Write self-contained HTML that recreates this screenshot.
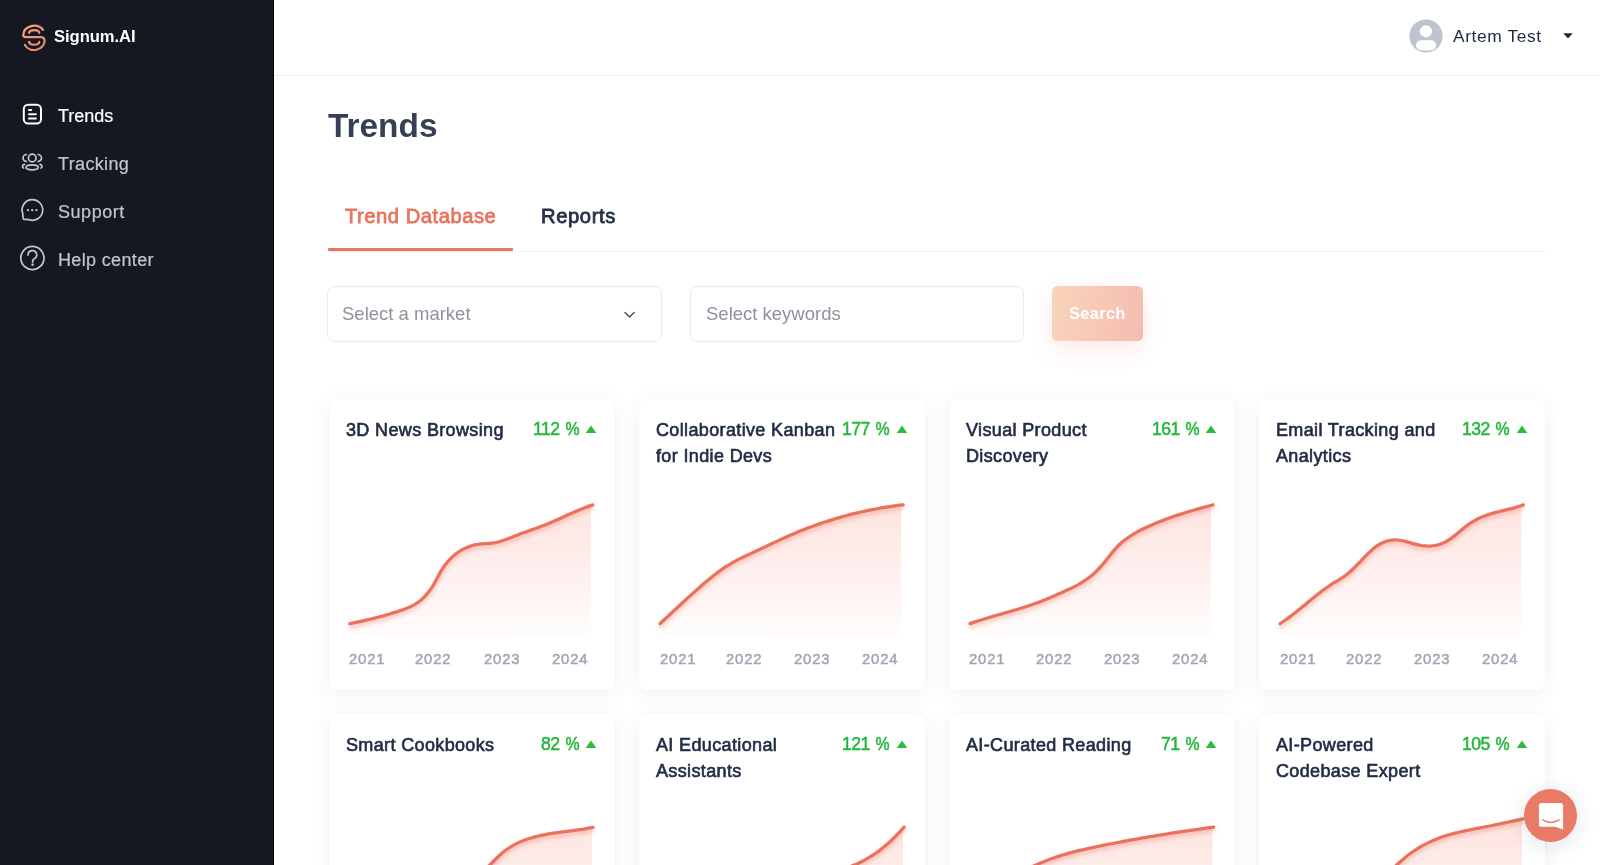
<!DOCTYPE html><html><head><meta charset="utf-8"><title>Signum.AI - Trends</title><style>
*{box-sizing:border-box;margin:0;padding:0}
html,body{width:1600px;height:865px;overflow:hidden;background:#fff;font-family:"Liberation Sans", Arial, sans-serif}
.t{position:absolute;white-space:nowrap;line-height:1;will-change:transform}
.abs{position:absolute}
#side{position:absolute;left:0;top:0;width:274px;height:865px;background:#151722;border-right:1px solid #000}
#hdr{position:absolute;left:274px;top:75px;width:1326px;height:1px;background:#eceef2}
.card{position:absolute;width:286px;height:291px;background:#fff;border-radius:8px;
  box-shadow:0 4px 20px rgba(40,55,100,0.075), 0 0 2px rgba(40,55,100,0.03)}
.inp{position:absolute;top:286px;height:55.6px;border:1.5px solid #e9eaf0;border-radius:7px;background:#fff}
</style></head><body>
<div id="side"></div>
<svg class="abs" style="left:20px;top:22px" width="28" height="32" viewBox="20 22 28 32">
<defs><linearGradient id="lg" x1="0" y1="0" x2="1" y2="1"><stop offset="0" stop-color="#f4a47a"/><stop offset="1" stop-color="#ec846c"/></linearGradient></defs>
<g fill="none" stroke="url(#lg)" stroke-width="2.2" stroke-linecap="round">
<path d="M43,29.8 A11,10 0 0 0 23.2,35 Q23.2,37.1 26,37.1 L40.6,37.1 Q44.6,37.1 44.6,41 A10.4,9 0 0 1 24.9,45"/>
<path d="M29.1,33 C29.6,29.3 38.8,29.3 39.3,33"/>
<path d="M29.1,41.9 C29.6,45.7 38.8,45.7 39.3,41.9"/>
</g></svg>
<div class="t" style="left:54.00px;top:29.25px;font-size:16.6px;color:#ffffff;font-weight:700;letter-spacing:-0.05px;">Signum.AI</div>
<svg class="abs" style="left:20px;top:101px" width="26" height="26" viewBox="20 101 26 26">
<g fill="none" stroke="#ffffff" stroke-width="2" stroke-linecap="round">
<rect x="23.8" y="104.8" width="17.2" height="18.7" rx="4.3"/>
<path d="M29,110 L31.2,110 M29,114.2 L35.9,114.2 M29,118.6 L35.9,118.6"/>
</g></svg>
<div class="t" style="left:58.00px;top:106.86px;font-size:18px;color:#ffffff;font-weight:400;letter-spacing:0px;-webkit-text-stroke:0.2px #fff;">Trends</div>
<svg class="abs" style="left:19px;top:150px" width="28" height="24" viewBox="19 150 28 24">
<g fill="none" stroke="#c4c6cf" stroke-width="1.7" stroke-linecap="round">
<circle cx="32.25" cy="158.05" r="3.85"/>
<ellipse cx="32.15" cy="167.35" rx="6.1" ry="2.5"/>
<path d="M26.5,154.5 A3.5,3.5 0 0 0 26.5,161.5"/>
<path d="M38,154.5 A3.5,3.5 0 0 1 38,161.5"/>
<path d="M24.5,164.3 C22.3,164.8 21.6,166.8 23.6,168.1"/>
<path d="M40,164.3 C42.2,164.8 42.9,166.8 40.9,168.1"/>
</g></svg>
<div class="t" style="left:58.00px;top:154.56px;font-size:18px;color:#c4c6cf;font-weight:400;letter-spacing:0.35px;-webkit-text-stroke:0.2px #c4c6cf;">Tracking</div>
<svg class="abs" style="left:19px;top:196px" width="28" height="28" viewBox="19 196 28 28">
<g fill="none" stroke="#c4c6cf" stroke-width="1.7" stroke-linecap="round" stroke-linejoin="round">
<path d="M22.7,213.4 L23.1,218.1 Q23.2,219.4 24.6,219.3 L28.8,219.6 A10.3,10.3 0 1 0 22.7,213.4 Z"/>
</g>
<g fill="#c4c6cf"><circle cx="28" cy="210.2" r="1.15"/><circle cx="32.2" cy="210.2" r="1.15"/><circle cx="36.4" cy="210.2" r="1.15"/></g>
</svg>
<div class="t" style="left:58.00px;top:202.66px;font-size:18px;color:#c4c6cf;font-weight:400;letter-spacing:0.55px;-webkit-text-stroke:0.2px #c4c6cf;">Support</div>
<svg class="abs" style="left:18px;top:244px" width="30" height="30" viewBox="18 244 30 30">
<g fill="none" stroke="#c4c6cf" stroke-width="1.75" stroke-linecap="round">
<circle cx="32.4" cy="258" r="11.6"/>
<path d="M28.1,255 A4.3,4.3 0 1 1 34.3,258.7 Q32.6,259.7 32.6,261.5 L32.6,262"/>
</g><rect x="31.4" y="263.6" width="2.4" height="2.2" rx="0.5" fill="#c4c6cf"/></svg>
<div class="t" style="left:58.00px;top:250.56px;font-size:18px;color:#c4c6cf;font-weight:400;letter-spacing:0.35px;-webkit-text-stroke:0.2px #c4c6cf;">Help center</div>
<div id="hdr"></div>
<svg class="abs" style="left:1409px;top:19px" width="34" height="34" viewBox="1409 19 34 34">
<defs><clipPath id="av"><circle cx="1426" cy="36" r="16.6"/></clipPath></defs>
<circle cx="1426" cy="36" r="16.6" fill="#bdc4d0"/>
<g clip-path="url(#av)" fill="#fff">
<circle cx="1425.9" cy="31.3" r="6.1"/>
<path d="M1416,46 Q1416,40.3 1421.5,40.3 L1430.5,40.3 Q1436.2,40.3 1436.2,46 Q1436.2,50.6 1426,50.6 Q1416,50.6 1416,46 Z"/>
</g></svg>
<div class="t" style="left:1452.50px;top:28.07px;font-size:17.4px;color:#1e2843;font-weight:400;letter-spacing:0.6px;">Artem Test</div>
<svg class="abs" style="left:1562px;top:32px" width="12" height="8" viewBox="1562 32 12 8"><path d="M1563.2,33.2 L1572.8,33.2 L1568,38.6 Z" fill="#1e2843"/></svg>
<div class="t" style="left:328.30px;top:109.03px;font-size:33.4px;color:#353f55;font-weight:700;letter-spacing:0px;">Trends</div>
<div class="t" style="left:344.60px;top:206.10px;font-size:20.2px;color:#e8755e;font-weight:400;letter-spacing:0.52px;-webkit-text-stroke:0.8px #e8755e;">Trend Database</div>
<div class="t" style="left:540.60px;top:206.10px;font-size:20.2px;color:#263149;font-weight:400;letter-spacing:0.6px;-webkit-text-stroke:0.8px #263149;">Reports</div>
<div class="abs" style="left:328px;top:251px;width:1218px;height:1px;background:#eceef2"></div>
<div class="abs" style="left:328px;top:248px;width:184.5px;height:3px;background:#e8775f;border-radius:1px"></div>
<div class="inp" style="left:327.3px;width:334.6px"></div>
<div class="t" style="left:342.00px;top:304.94px;font-size:18.5px;color:#8f929d;font-weight:400;letter-spacing:0px;">Select a market</div>
<svg class="abs" style="left:622px;top:309px" width="15" height="11" viewBox="622 309 15 11"><path d="M624.6,312.1 L629.6,316.9 L634.6,312.1" fill="none" stroke="#1e2843" stroke-width="1.15"/></svg>
<div class="inp" style="left:689.6px;width:334.4px"></div>
<div class="t" style="left:706.40px;top:304.94px;font-size:18.5px;color:#8f929d;font-weight:400;letter-spacing:0px;">Select keywords</div>
<div class="abs" style="left:1052px;top:286px;width:91px;height:55px;border-radius:5.5px;
background:linear-gradient(100deg,#f8d5b9 0%,#f7c8b6 50%,#f4bcb0 100%);
box-shadow:0 8px 22px rgba(240,120,100,0.16)"></div>
<div class="t" style="left:1069.30px;top:305.20px;font-size:16.3px;color:#ffffff;font-weight:700;letter-spacing:0.4px;">Search</div>
<div class="card" style="left:328.5px;top:398.5px"></div>
<div class="card" style="left:639.0px;top:398.5px"></div>
<div class="card" style="left:948.8px;top:398.5px"></div>
<div class="card" style="left:1259.0px;top:398.5px"></div>
<div class="card" style="left:328.5px;top:713.5px"></div>
<div class="card" style="left:639.0px;top:713.5px"></div>
<div class="card" style="left:948.8px;top:713.5px"></div>
<div class="card" style="left:1259.0px;top:713.5px"></div>
<div class="t" style="left:345.50px;top:417.06px;font-size:18.0px;line-height:26.2px;color:#222c46;letter-spacing:0.36px;-webkit-text-stroke:0.62px #222c46">3D News Browsing</div>
<div class="t" style="right:1020.30px;top:421.10px;font-size:17.6px;color:#22b83b;-webkit-text-stroke:0.5px #22b83b"><span style="letter-spacing:-0.5px">112</span><span style="display:inline-block;margin-left:4.4px;transform:scaleX(0.9);transform-origin:100% 50%">%</span></div>
<svg class="abs" style="left:585.1px;top:425.0px" width="12" height="9" viewBox="0 0 12 9"><path d="M0.7,8.1 L11.3,8.1 L6,0.5 Z" fill="#2bbb3f"/></svg>
<div class="t" style="left:349.10px;top:652.47px;font-size:14.8px;color:#a0a6b4;font-weight:400;letter-spacing:0.85px;-webkit-text-stroke:0.5px #a0a6b4;">2021</div>
<div class="t" style="left:415.40px;top:652.47px;font-size:14.8px;color:#a0a6b4;font-weight:400;letter-spacing:0.85px;-webkit-text-stroke:0.5px #a0a6b4;">2022</div>
<div class="t" style="left:483.60px;top:652.47px;font-size:14.8px;color:#a0a6b4;font-weight:400;letter-spacing:0.85px;-webkit-text-stroke:0.5px #a0a6b4;">2023</div>
<div class="t" style="left:551.80px;top:652.47px;font-size:14.8px;color:#a0a6b4;font-weight:400;letter-spacing:0.85px;-webkit-text-stroke:0.5px #a0a6b4;">2024</div>
<div class="t" style="left:656.00px;top:417.06px;font-size:18.0px;line-height:26.2px;color:#222c46;letter-spacing:0.36px;-webkit-text-stroke:0.62px #222c46">Collaborative Kanban<br>for Indie Devs</div>
<div class="t" style="right:709.80px;top:421.10px;font-size:17.6px;color:#22b83b;-webkit-text-stroke:0.5px #22b83b"><span style="letter-spacing:-0.5px">177</span><span style="display:inline-block;margin-left:4.4px;transform:scaleX(0.9);transform-origin:100% 50%">%</span></div>
<svg class="abs" style="left:895.6px;top:425.0px" width="12" height="9" viewBox="0 0 12 9"><path d="M0.7,8.1 L11.3,8.1 L6,0.5 Z" fill="#2bbb3f"/></svg>
<div class="t" style="left:659.60px;top:652.47px;font-size:14.8px;color:#a0a6b4;font-weight:400;letter-spacing:0.85px;-webkit-text-stroke:0.5px #a0a6b4;">2021</div>
<div class="t" style="left:725.90px;top:652.47px;font-size:14.8px;color:#a0a6b4;font-weight:400;letter-spacing:0.85px;-webkit-text-stroke:0.5px #a0a6b4;">2022</div>
<div class="t" style="left:794.10px;top:652.47px;font-size:14.8px;color:#a0a6b4;font-weight:400;letter-spacing:0.85px;-webkit-text-stroke:0.5px #a0a6b4;">2023</div>
<div class="t" style="left:862.30px;top:652.47px;font-size:14.8px;color:#a0a6b4;font-weight:400;letter-spacing:0.85px;-webkit-text-stroke:0.5px #a0a6b4;">2024</div>
<div class="t" style="left:965.80px;top:417.06px;font-size:18.0px;line-height:26.2px;color:#222c46;letter-spacing:0.36px;-webkit-text-stroke:0.62px #222c46">Visual Product<br>Discovery</div>
<div class="t" style="right:400.00px;top:421.10px;font-size:17.6px;color:#22b83b;-webkit-text-stroke:0.5px #22b83b"><span style="letter-spacing:-0.5px">161</span><span style="display:inline-block;margin-left:4.4px;transform:scaleX(0.9);transform-origin:100% 50%">%</span></div>
<svg class="abs" style="left:1205.4px;top:425.0px" width="12" height="9" viewBox="0 0 12 9"><path d="M0.7,8.1 L11.3,8.1 L6,0.5 Z" fill="#2bbb3f"/></svg>
<div class="t" style="left:969.40px;top:652.47px;font-size:14.8px;color:#a0a6b4;font-weight:400;letter-spacing:0.85px;-webkit-text-stroke:0.5px #a0a6b4;">2021</div>
<div class="t" style="left:1035.70px;top:652.47px;font-size:14.8px;color:#a0a6b4;font-weight:400;letter-spacing:0.85px;-webkit-text-stroke:0.5px #a0a6b4;">2022</div>
<div class="t" style="left:1103.90px;top:652.47px;font-size:14.8px;color:#a0a6b4;font-weight:400;letter-spacing:0.85px;-webkit-text-stroke:0.5px #a0a6b4;">2023</div>
<div class="t" style="left:1172.10px;top:652.47px;font-size:14.8px;color:#a0a6b4;font-weight:400;letter-spacing:0.85px;-webkit-text-stroke:0.5px #a0a6b4;">2024</div>
<div class="t" style="left:1276.00px;top:417.06px;font-size:18.0px;line-height:26.2px;color:#222c46;letter-spacing:0.36px;-webkit-text-stroke:0.62px #222c46">Email Tracking and<br>Analytics</div>
<div class="t" style="right:89.80px;top:421.10px;font-size:17.6px;color:#22b83b;-webkit-text-stroke:0.5px #22b83b"><span style="letter-spacing:-0.5px">132</span><span style="display:inline-block;margin-left:4.4px;transform:scaleX(0.9);transform-origin:100% 50%">%</span></div>
<svg class="abs" style="left:1515.6px;top:425.0px" width="12" height="9" viewBox="0 0 12 9"><path d="M0.7,8.1 L11.3,8.1 L6,0.5 Z" fill="#2bbb3f"/></svg>
<div class="t" style="left:1279.60px;top:652.47px;font-size:14.8px;color:#a0a6b4;font-weight:400;letter-spacing:0.85px;-webkit-text-stroke:0.5px #a0a6b4;">2021</div>
<div class="t" style="left:1345.90px;top:652.47px;font-size:14.8px;color:#a0a6b4;font-weight:400;letter-spacing:0.85px;-webkit-text-stroke:0.5px #a0a6b4;">2022</div>
<div class="t" style="left:1414.10px;top:652.47px;font-size:14.8px;color:#a0a6b4;font-weight:400;letter-spacing:0.85px;-webkit-text-stroke:0.5px #a0a6b4;">2023</div>
<div class="t" style="left:1482.30px;top:652.47px;font-size:14.8px;color:#a0a6b4;font-weight:400;letter-spacing:0.85px;-webkit-text-stroke:0.5px #a0a6b4;">2024</div>
<div class="t" style="left:345.50px;top:732.06px;font-size:18.0px;line-height:26.2px;color:#222c46;letter-spacing:0.36px;-webkit-text-stroke:0.62px #222c46">Smart Cookbooks</div>
<div class="t" style="right:1020.30px;top:736.10px;font-size:17.6px;color:#22b83b;-webkit-text-stroke:0.5px #22b83b"><span style="letter-spacing:-0.5px">82</span><span style="display:inline-block;margin-left:4.4px;transform:scaleX(0.9);transform-origin:100% 50%">%</span></div>
<svg class="abs" style="left:585.1px;top:740.0px" width="12" height="9" viewBox="0 0 12 9"><path d="M0.7,8.1 L11.3,8.1 L6,0.5 Z" fill="#2bbb3f"/></svg>
<div class="t" style="left:656.00px;top:732.06px;font-size:18.0px;line-height:26.2px;color:#222c46;letter-spacing:0.36px;-webkit-text-stroke:0.62px #222c46">AI Educational<br>Assistants</div>
<div class="t" style="right:709.80px;top:736.10px;font-size:17.6px;color:#22b83b;-webkit-text-stroke:0.5px #22b83b"><span style="letter-spacing:-0.5px">121</span><span style="display:inline-block;margin-left:4.4px;transform:scaleX(0.9);transform-origin:100% 50%">%</span></div>
<svg class="abs" style="left:895.6px;top:740.0px" width="12" height="9" viewBox="0 0 12 9"><path d="M0.7,8.1 L11.3,8.1 L6,0.5 Z" fill="#2bbb3f"/></svg>
<div class="t" style="left:965.80px;top:732.06px;font-size:18.0px;line-height:26.2px;color:#222c46;letter-spacing:0.36px;-webkit-text-stroke:0.62px #222c46">AI-Curated Reading</div>
<div class="t" style="right:400.00px;top:736.10px;font-size:17.6px;color:#22b83b;-webkit-text-stroke:0.5px #22b83b"><span style="letter-spacing:-0.5px">71</span><span style="display:inline-block;margin-left:4.4px;transform:scaleX(0.9);transform-origin:100% 50%">%</span></div>
<svg class="abs" style="left:1205.4px;top:740.0px" width="12" height="9" viewBox="0 0 12 9"><path d="M0.7,8.1 L11.3,8.1 L6,0.5 Z" fill="#2bbb3f"/></svg>
<div class="t" style="left:1276.00px;top:732.06px;font-size:18.0px;line-height:26.2px;color:#222c46;letter-spacing:0.36px;-webkit-text-stroke:0.62px #222c46">AI-Powered<br>Codebase Expert</div>
<div class="t" style="right:89.80px;top:736.10px;font-size:17.6px;color:#22b83b;-webkit-text-stroke:0.5px #22b83b"><span style="letter-spacing:-0.5px">105</span><span style="display:inline-block;margin-left:4.4px;transform:scaleX(0.9);transform-origin:100% 50%">%</span></div>
<svg class="abs" style="left:1515.6px;top:740.0px" width="12" height="9" viewBox="0 0 12 9"><path d="M0.7,8.1 L11.3,8.1 L6,0.5 Z" fill="#2bbb3f"/></svg>
<svg class="abs" style="left:0;top:0" width="1600" height="865" viewBox="0 0 1600 865">
<defs>
<linearGradient id="g1" gradientUnits="userSpaceOnUse" x1="0" y1="505" x2="0" y2="634"><stop offset="0" stop-color="#f87c68" stop-opacity="0.21"/><stop offset="1" stop-color="#f87c68" stop-opacity="0.025"/></linearGradient>
<linearGradient id="g2" gradientUnits="userSpaceOnUse" x1="0" y1="820" x2="0" y2="948"><stop offset="0" stop-color="#f87c68" stop-opacity="0.21"/><stop offset="1" stop-color="#f87c68" stop-opacity="0.025"/></linearGradient>
<filter id="ds" x="-5%" y="-10%" width="110%" height="130%"><feDropShadow dx="0" dy="2.8" stdDeviation="2" flood-color="#f07c68" flood-opacity="0.5"/></filter>
</defs>
<clipPath id="c1"><rect x="346.9" y="400" width="243.90" height="600"/></clipPath>
<path d="M349.90,623.69 C351.57,623.33 353.23,622.98 354.90,622.62 C356.57,622.27 358.23,621.90 359.90,621.54 C361.57,621.17 363.23,620.80 364.90,620.42 C366.57,620.04 368.23,619.66 369.90,619.26 C371.57,618.87 373.23,618.46 374.90,618.05 C376.57,617.63 378.23,617.21 379.90,616.77 C381.57,616.33 383.23,615.87 384.90,615.41 C386.57,614.94 388.23,614.46 389.90,613.96 C391.57,613.46 393.23,612.94 394.90,612.40 C396.57,611.87 398.23,611.31 399.90,610.73 C401.57,610.16 403.23,609.56 404.90,608.94 C406.57,608.32 408.23,607.67 409.90,606.95 C411.57,606.22 413.23,605.40 414.90,604.44 C416.57,603.48 418.23,602.38 419.90,601.07 C421.57,599.76 423.23,598.25 424.90,596.47 C426.57,594.69 428.23,592.64 429.90,590.32 C431.57,587.99 433.23,585.38 434.90,582.46 C436.57,579.55 438.23,576.19 439.90,573.15 C441.57,570.10 443.23,567.49 444.90,565.21 C446.57,562.93 448.23,560.98 449.90,559.27 C451.57,557.56 453.23,556.08 454.90,554.74 C456.57,553.40 458.23,552.21 459.90,551.16 C461.57,550.11 463.23,549.20 464.90,548.40 C466.57,547.60 468.23,546.93 469.90,546.36 C471.57,545.79 473.23,545.32 474.90,544.94 C476.57,544.57 478.23,544.28 479.90,544.07 C481.57,543.85 483.23,543.72 484.90,543.63 C486.57,543.55 488.23,543.49 489.90,543.38 C491.57,543.26 493.23,543.07 494.90,542.75 C496.57,542.42 498.23,541.99 499.90,541.49 C501.57,540.99 503.23,540.43 504.90,539.84 C506.57,539.25 508.23,538.63 509.90,537.99 C511.57,537.35 513.23,536.70 514.90,536.04 C516.57,535.38 518.23,534.73 519.90,534.08 C521.57,533.43 523.23,532.80 524.90,532.20 C526.57,531.59 528.23,531.01 529.90,530.44 C531.57,529.87 533.23,529.30 534.90,528.73 C536.57,528.16 538.23,527.58 539.90,526.97 C541.57,526.37 543.23,525.73 544.90,525.07 C546.57,524.40 548.23,523.72 549.90,523.01 C551.57,522.30 553.23,521.57 554.90,520.84 C556.57,520.10 558.23,519.35 559.90,518.59 C561.57,517.83 563.23,517.07 564.90,516.31 C566.57,515.55 568.23,514.79 569.90,514.04 C571.57,513.29 573.23,512.55 574.90,511.82 C576.57,511.10 578.23,510.38 579.90,509.69 C581.57,509.00 583.23,508.33 584.90,507.69 C586.57,507.05 588.23,506.44 589.90,505.87 C590.87,505.53 591.83,505.21 592.80,504.90 L592.80,634 L349.90,634 Z" fill="url(#g1)" clip-path="url(#c1)"/>
<clipPath id="c2"><rect x="657.1" y="400" width="244.00" height="600"/></clipPath>
<path d="M660.10,623.57 C661.77,622.03 663.43,620.49 665.10,618.95 C666.77,617.40 668.43,615.86 670.10,614.31 C671.77,612.76 673.43,611.21 675.10,609.66 C676.77,608.12 678.43,606.57 680.10,605.03 C681.77,603.49 683.43,601.96 685.10,600.43 C686.77,598.90 688.43,597.38 690.10,595.86 C691.77,594.35 693.43,592.85 695.10,591.36 C696.77,589.86 698.43,588.38 700.10,586.92 C701.77,585.45 703.43,584.01 705.10,582.59 C706.77,581.16 708.43,579.77 710.10,578.40 C711.77,577.04 713.43,575.71 715.10,574.42 C716.77,573.13 718.43,571.88 720.10,570.67 C721.77,569.47 723.43,568.32 725.10,567.22 C726.77,566.13 728.43,565.09 730.10,564.10 C731.77,563.11 733.43,562.17 735.10,561.27 C736.77,560.37 738.43,559.51 740.10,558.67 C741.77,557.83 743.43,557.02 745.10,556.23 C746.77,555.44 748.43,554.66 750.10,553.89 C751.77,553.11 753.43,552.34 755.10,551.57 C756.77,550.79 758.43,550.01 760.10,549.23 C761.77,548.44 763.43,547.65 765.10,546.86 C766.77,546.07 768.43,545.28 770.10,544.49 C771.77,543.70 773.43,542.92 775.10,542.13 C776.77,541.35 778.43,540.57 780.10,539.80 C781.77,539.04 783.43,538.27 785.10,537.52 C786.77,536.77 788.43,536.03 790.10,535.30 C791.77,534.58 793.43,533.86 795.10,533.16 C796.77,532.46 798.43,531.78 800.10,531.10 C801.77,530.43 803.43,529.77 805.10,529.12 C806.77,528.47 808.43,527.83 810.10,527.21 C811.77,526.59 813.43,525.98 815.10,525.38 C816.77,524.78 818.43,524.20 820.10,523.63 C821.77,523.05 823.43,522.49 825.10,521.95 C826.77,521.40 828.43,520.86 830.10,520.34 C831.77,519.82 833.43,519.31 835.10,518.81 C836.77,518.31 838.43,517.82 840.10,517.35 C841.77,516.87 843.43,516.41 845.10,515.96 C846.77,515.51 848.43,515.07 850.10,514.64 C851.77,514.21 853.43,513.79 855.10,513.39 C856.77,512.98 858.43,512.59 860.10,512.21 C861.77,511.83 863.43,511.46 865.10,511.10 C866.77,510.74 868.43,510.39 870.10,510.05 C871.77,509.72 873.43,509.39 875.10,509.07 C876.77,508.76 878.43,508.45 880.10,508.16 C881.77,507.87 883.43,507.59 885.10,507.31 C886.77,507.04 888.43,506.78 890.10,506.53 C891.77,506.28 893.43,506.04 895.10,505.81 C896.77,505.58 898.43,505.36 900.10,505.15 C901.10,505.03 902.10,504.90 903.10,504.78 L903.10,634 L660.10,634 Z" fill="url(#g1)" clip-path="url(#c2)"/>
<clipPath id="c3"><rect x="967.1" y="400" width="244.00" height="600"/></clipPath>
<path d="M970.10,623.61 C971.77,623.02 973.43,622.44 975.10,621.88 C976.77,621.32 978.43,620.78 980.10,620.25 C981.77,619.72 983.43,619.20 985.10,618.70 C986.77,618.19 988.43,617.69 990.10,617.20 C991.77,616.71 993.43,616.23 995.10,615.75 C996.77,615.27 998.43,614.80 1000.10,614.32 C1001.77,613.85 1003.43,613.38 1005.10,612.90 C1006.77,612.43 1008.43,611.95 1010.10,611.47 C1011.77,610.99 1013.43,610.51 1015.10,610.02 C1016.77,609.53 1018.43,609.03 1020.10,608.52 C1021.77,608.01 1023.43,607.49 1025.10,606.96 C1026.77,606.42 1028.43,605.88 1030.10,605.31 C1031.77,604.75 1033.43,604.17 1035.10,603.57 C1036.77,602.98 1038.43,602.36 1040.10,601.72 C1041.77,601.08 1043.43,600.42 1045.10,599.74 C1046.77,599.06 1048.43,598.37 1050.10,597.66 C1051.77,596.95 1053.43,596.23 1055.10,595.50 C1056.77,594.77 1058.43,594.03 1060.10,593.29 C1061.77,592.55 1063.43,591.81 1065.10,591.07 C1066.77,590.32 1068.43,589.56 1070.10,588.78 C1071.77,588.00 1073.43,587.19 1075.10,586.33 C1076.77,585.47 1078.43,584.56 1080.10,583.59 C1081.77,582.62 1083.43,581.58 1085.10,580.45 C1086.77,579.32 1088.43,578.11 1090.10,576.79 C1091.77,575.47 1093.43,574.04 1095.10,572.49 C1096.77,570.94 1098.43,569.26 1100.10,567.44 C1101.77,565.62 1103.43,563.63 1105.10,561.54 C1106.77,559.45 1108.43,557.28 1110.10,555.15 C1111.77,553.03 1113.43,550.95 1115.10,549.06 C1116.77,547.16 1118.43,545.47 1120.10,543.95 C1121.77,542.44 1123.43,541.08 1125.10,539.81 C1126.77,538.54 1128.43,537.36 1130.10,536.25 C1131.77,535.15 1133.43,534.11 1135.10,533.14 C1136.77,532.17 1138.43,531.25 1140.10,530.39 C1141.77,529.52 1143.43,528.70 1145.10,527.92 C1146.77,527.13 1148.43,526.38 1150.10,525.64 C1151.77,524.91 1153.43,524.19 1155.10,523.50 C1156.77,522.80 1158.43,522.13 1160.10,521.47 C1161.77,520.81 1163.43,520.17 1165.10,519.55 C1166.77,518.92 1168.43,518.32 1170.10,517.72 C1171.77,517.13 1173.43,516.55 1175.10,515.99 C1176.77,515.43 1178.43,514.88 1180.10,514.34 C1181.77,513.80 1183.43,513.27 1185.10,512.76 C1186.77,512.25 1188.43,511.74 1190.10,511.25 C1191.77,510.75 1193.43,510.27 1195.10,509.80 C1196.77,509.32 1198.43,508.85 1200.10,508.39 C1201.77,507.93 1203.43,507.48 1205.10,507.03 C1206.77,506.58 1208.43,506.14 1210.10,505.71 C1211.10,505.44 1212.10,505.18 1213.10,504.92 L1213.10,634 L970.10,634 Z" fill="url(#g1)" clip-path="url(#c3)"/>
<clipPath id="c4"><rect x="1277.1" y="400" width="244.20" height="600"/></clipPath>
<path d="M1280.10,623.60 C1281.77,622.56 1283.43,621.45 1285.10,620.29 C1286.77,619.13 1288.43,617.92 1290.10,616.67 C1291.77,615.41 1293.43,614.12 1295.10,612.80 C1296.77,611.48 1298.43,610.13 1300.10,608.76 C1301.77,607.40 1303.43,606.02 1305.10,604.64 C1306.77,603.26 1308.43,601.88 1310.10,600.50 C1311.77,599.13 1313.43,597.77 1315.10,596.43 C1316.77,595.09 1318.43,593.77 1320.10,592.49 C1321.77,591.20 1323.43,589.96 1325.10,588.76 C1326.77,587.56 1328.43,586.41 1330.10,585.32 C1331.77,584.23 1333.43,583.21 1335.10,582.22 C1336.77,581.22 1338.43,580.25 1340.10,579.21 C1341.77,578.17 1343.43,577.06 1345.10,575.82 C1346.77,574.57 1348.43,573.18 1350.10,571.69 C1351.77,570.20 1353.43,568.62 1355.10,566.97 C1356.77,565.32 1358.43,563.61 1360.10,561.89 C1361.77,560.16 1363.43,558.41 1365.10,556.69 C1366.77,554.97 1368.43,553.27 1370.10,551.67 C1371.77,550.08 1373.43,548.60 1375.10,547.31 C1376.77,546.02 1378.43,544.93 1380.10,544.00 C1381.77,543.07 1383.43,542.32 1385.10,541.71 C1386.77,541.10 1388.43,540.63 1390.10,540.32 C1391.77,540.01 1393.43,539.85 1395.10,539.84 C1396.77,539.84 1398.43,539.99 1400.10,540.26 C1401.77,540.52 1403.43,540.90 1405.10,541.33 C1406.77,541.77 1408.43,542.25 1410.10,542.74 C1411.77,543.23 1413.43,543.72 1415.10,544.16 C1416.77,544.59 1418.43,544.97 1420.10,545.27 C1421.77,545.58 1423.43,545.80 1425.10,545.93 C1426.77,546.07 1428.43,546.11 1430.10,546.04 C1431.77,545.97 1433.43,545.80 1435.10,545.50 C1436.77,545.20 1438.43,544.78 1440.10,544.22 C1441.77,543.66 1443.43,542.97 1445.10,542.11 C1446.77,541.26 1448.43,540.25 1450.10,539.11 C1451.77,537.97 1453.43,536.70 1455.10,535.36 C1456.77,534.02 1458.43,532.58 1460.10,531.15 C1461.77,529.72 1463.43,528.30 1465.10,526.97 C1466.77,525.65 1468.43,524.44 1470.10,523.33 C1471.77,522.23 1473.43,521.23 1475.10,520.31 C1476.77,519.40 1478.43,518.58 1480.10,517.83 C1481.77,517.08 1483.43,516.41 1485.10,515.79 C1486.77,515.17 1488.43,514.61 1490.10,514.09 C1491.77,513.57 1493.43,513.10 1495.10,512.65 C1496.77,512.20 1498.43,511.78 1500.10,511.37 C1501.77,510.96 1503.43,510.56 1505.10,510.16 C1506.77,509.76 1508.43,509.35 1510.10,508.93 C1511.77,508.50 1513.43,508.05 1515.10,507.57 C1516.77,507.09 1518.43,506.58 1520.10,506.01 C1521.17,505.65 1522.23,505.26 1523.30,504.86 L1523.30,634 L1280.10,634 Z" fill="url(#g1)" clip-path="url(#c4)"/>
<clipPath id="c5"><rect x="457" y="400" width="134.80" height="600"/></clipPath>
<path d="M460.00,898.96 C461.67,897.07 463.33,895.17 465.00,893.25 C466.67,891.34 468.33,889.41 470.00,887.49 C471.67,885.56 473.33,883.64 475.00,881.72 C476.67,879.81 478.33,877.90 480.00,876.01 C481.67,874.12 483.33,872.25 485.00,870.40 C486.67,868.55 488.33,866.74 490.00,864.95 C491.67,863.17 493.33,861.42 495.00,859.74 C496.67,858.06 498.33,856.45 500.00,854.94 C501.67,853.43 503.33,852.04 505.00,850.77 C506.67,849.50 508.33,848.34 510.00,847.29 C511.67,846.23 513.33,845.27 515.00,844.40 C516.67,843.52 518.33,842.73 520.00,842.00 C521.67,841.27 523.33,840.61 525.00,839.99 C526.67,839.38 528.33,838.81 530.00,838.29 C531.67,837.77 533.33,837.29 535.00,836.85 C536.67,836.40 538.33,836.00 540.00,835.62 C541.67,835.25 543.33,834.91 545.00,834.59 C546.67,834.27 548.33,833.98 550.00,833.71 C551.67,833.43 553.33,833.18 555.00,832.94 C556.67,832.70 558.33,832.48 560.00,832.26 C561.67,832.04 563.33,831.84 565.00,831.63 C566.67,831.42 568.33,831.22 570.00,831.01 C571.67,830.80 573.33,830.59 575.00,830.37 C576.67,830.15 578.33,829.92 580.00,829.67 C581.67,829.42 583.33,829.16 585.00,828.88 C586.67,828.60 588.33,828.29 590.00,827.96 C591.00,827.77 592.00,827.56 593.00,827.34 L593.00,960 L460.00,960 Z" fill="url(#g2)" clip-path="url(#c5)"/>
<clipPath id="c6"><rect x="802" y="400" width="100.90" height="600"/></clipPath>
<path d="M805.00,883.96 C806.67,883.16 808.33,882.40 810.00,881.67 C811.67,880.95 813.33,880.26 815.00,879.59 C816.67,878.93 818.33,878.29 820.00,877.67 C821.67,877.05 823.33,876.45 825.00,875.86 C826.67,875.27 828.33,874.69 830.00,874.11 C831.67,873.54 833.33,872.96 835.00,872.39 C836.67,871.81 838.33,871.23 840.00,870.63 C841.67,870.04 843.33,869.43 845.00,868.80 C846.67,868.18 848.33,867.53 850.00,866.86 C851.67,866.18 853.33,865.48 855.00,864.75 C856.67,864.01 858.33,863.24 860.00,862.42 C861.67,861.61 863.33,860.75 865.00,859.85 C866.67,858.94 868.33,857.98 870.00,856.97 C871.67,855.95 873.33,854.88 875.00,853.74 C876.67,852.60 878.33,851.39 880.00,850.12 C881.67,848.85 883.33,847.51 885.00,846.10 C886.67,844.70 888.33,843.23 890.00,841.69 C891.67,840.15 893.33,838.55 895.00,836.88 C896.67,835.21 898.33,833.48 900.00,831.68 C901.37,830.21 902.73,828.69 904.10,827.13 L904.10,960 L805.00,960 Z" fill="url(#g2)" clip-path="url(#c6)"/>
<clipPath id="c7"><rect x="992" y="400" width="220.55" height="600"/></clipPath>
<path d="M995.00,892.08 C996.67,890.60 998.33,889.17 1000.00,887.80 C1001.67,886.43 1003.33,885.10 1005.00,883.83 C1006.67,882.55 1008.33,881.32 1010.00,880.14 C1011.67,878.96 1013.33,877.82 1015.00,876.73 C1016.67,875.63 1018.33,874.58 1020.00,873.57 C1021.67,872.56 1023.33,871.59 1025.00,870.66 C1026.67,869.73 1028.33,868.83 1030.00,867.97 C1031.67,867.12 1033.33,866.29 1035.00,865.50 C1036.67,864.71 1038.33,863.96 1040.00,863.23 C1041.67,862.51 1043.33,861.81 1045.00,861.14 C1046.67,860.47 1048.33,859.84 1050.00,859.22 C1051.67,858.61 1053.33,858.02 1055.00,857.46 C1056.67,856.89 1058.33,856.35 1060.00,855.83 C1061.67,855.31 1063.33,854.81 1065.00,854.32 C1066.67,853.84 1068.33,853.38 1070.00,852.93 C1071.67,852.48 1073.33,852.05 1075.00,851.63 C1076.67,851.21 1078.33,850.80 1080.00,850.41 C1081.67,850.01 1083.33,849.63 1085.00,849.25 C1086.67,848.88 1088.33,848.51 1090.00,848.15 C1091.67,847.79 1093.33,847.43 1095.00,847.08 C1096.67,846.72 1098.33,846.37 1100.00,846.03 C1101.67,845.68 1103.33,845.34 1105.00,845.01 C1106.67,844.67 1108.33,844.33 1110.00,844.00 C1111.67,843.67 1113.33,843.35 1115.00,843.02 C1116.67,842.70 1118.33,842.38 1120.00,842.07 C1121.67,841.75 1123.33,841.44 1125.00,841.13 C1126.67,840.82 1128.33,840.51 1130.00,840.21 C1131.67,839.90 1133.33,839.60 1135.00,839.31 C1136.67,839.01 1138.33,838.72 1140.00,838.43 C1141.67,838.13 1143.33,837.85 1145.00,837.56 C1146.67,837.28 1148.33,836.99 1150.00,836.71 C1151.67,836.43 1153.33,836.16 1155.00,835.88 C1156.67,835.61 1158.33,835.34 1160.00,835.07 C1161.67,834.80 1163.33,834.53 1165.00,834.27 C1166.67,834.00 1168.33,833.74 1170.00,833.48 C1171.67,833.22 1173.33,832.96 1175.00,832.71 C1176.67,832.45 1178.33,832.20 1180.00,831.95 C1181.67,831.70 1183.33,831.45 1185.00,831.20 C1186.67,830.95 1188.33,830.71 1190.00,830.47 C1191.67,830.22 1193.33,829.98 1195.00,829.74 C1196.67,829.50 1198.33,829.26 1200.00,829.03 C1201.67,828.79 1203.33,828.56 1205.00,828.32 C1206.67,828.09 1208.33,827.86 1210.00,827.63 C1211.25,827.45 1212.50,827.28 1213.75,827.11 L1213.75,960 L995.00,960 Z" fill="url(#g2)" clip-path="url(#c7)"/>
<clipPath id="c8"><rect x="1362" y="400" width="160.10" height="600"/></clipPath>
<path d="M1365.00,902.07 C1366.67,899.81 1368.33,897.59 1370.00,895.41 C1371.67,893.24 1373.33,891.11 1375.00,889.03 C1376.67,886.96 1378.33,884.93 1380.00,882.96 C1381.67,880.98 1383.33,879.06 1385.00,877.20 C1386.67,875.33 1388.33,873.52 1390.00,871.77 C1391.67,870.02 1393.33,868.33 1395.00,866.70 C1396.67,865.07 1398.33,863.50 1400.00,862.00 C1401.67,860.49 1403.33,859.05 1405.00,857.68 C1406.67,856.31 1408.33,855.01 1410.00,853.77 C1411.67,852.54 1413.33,851.37 1415.00,850.27 C1416.67,849.17 1418.33,848.13 1420.00,847.14 C1421.67,846.16 1423.33,845.23 1425.00,844.36 C1426.67,843.49 1428.33,842.67 1430.00,841.89 C1431.67,841.12 1433.33,840.39 1435.00,839.71 C1436.67,839.02 1438.33,838.38 1440.00,837.77 C1441.67,837.17 1443.33,836.60 1445.00,836.06 C1446.67,835.52 1448.33,835.02 1450.00,834.54 C1451.67,834.06 1453.33,833.61 1455.00,833.19 C1456.67,832.76 1458.33,832.36 1460.00,831.97 C1461.67,831.58 1463.33,831.22 1465.00,830.86 C1466.67,830.51 1468.33,830.17 1470.00,829.84 C1471.67,829.50 1473.33,829.18 1475.00,828.86 C1476.67,828.54 1478.33,828.23 1480.00,827.91 C1481.67,827.60 1483.33,827.28 1485.00,826.96 C1486.67,826.64 1488.33,826.31 1490.00,825.98 C1491.67,825.64 1493.33,825.30 1495.00,824.95 C1496.67,824.61 1498.33,824.25 1500.00,823.90 C1501.67,823.54 1503.33,823.18 1505.00,822.82 C1506.67,822.46 1508.33,822.10 1510.00,821.74 C1511.67,821.38 1513.33,821.01 1515.00,820.66 C1516.67,820.30 1518.33,819.94 1520.00,819.59 C1521.10,819.36 1522.20,819.13 1523.30,818.91 L1523.30,960 L1365.00,960 Z" fill="url(#g2)" clip-path="url(#c8)"/>
<path d="M349.90,623.69 C351.57,623.33 353.23,622.98 354.90,622.62 C356.57,622.27 358.23,621.90 359.90,621.54 C361.57,621.17 363.23,620.80 364.90,620.42 C366.57,620.04 368.23,619.66 369.90,619.26 C371.57,618.87 373.23,618.46 374.90,618.05 C376.57,617.63 378.23,617.21 379.90,616.77 C381.57,616.33 383.23,615.87 384.90,615.41 C386.57,614.94 388.23,614.46 389.90,613.96 C391.57,613.46 393.23,612.94 394.90,612.40 C396.57,611.87 398.23,611.31 399.90,610.73 C401.57,610.16 403.23,609.56 404.90,608.94 C406.57,608.32 408.23,607.67 409.90,606.95 C411.57,606.22 413.23,605.40 414.90,604.44 C416.57,603.48 418.23,602.38 419.90,601.07 C421.57,599.76 423.23,598.25 424.90,596.47 C426.57,594.69 428.23,592.64 429.90,590.32 C431.57,587.99 433.23,585.38 434.90,582.46 C436.57,579.55 438.23,576.19 439.90,573.15 C441.57,570.10 443.23,567.49 444.90,565.21 C446.57,562.93 448.23,560.98 449.90,559.27 C451.57,557.56 453.23,556.08 454.90,554.74 C456.57,553.40 458.23,552.21 459.90,551.16 C461.57,550.11 463.23,549.20 464.90,548.40 C466.57,547.60 468.23,546.93 469.90,546.36 C471.57,545.79 473.23,545.32 474.90,544.94 C476.57,544.57 478.23,544.28 479.90,544.07 C481.57,543.85 483.23,543.72 484.90,543.63 C486.57,543.55 488.23,543.49 489.90,543.38 C491.57,543.26 493.23,543.07 494.90,542.75 C496.57,542.42 498.23,541.99 499.90,541.49 C501.57,540.99 503.23,540.43 504.90,539.84 C506.57,539.25 508.23,538.63 509.90,537.99 C511.57,537.35 513.23,536.70 514.90,536.04 C516.57,535.38 518.23,534.73 519.90,534.08 C521.57,533.43 523.23,532.80 524.90,532.20 C526.57,531.59 528.23,531.01 529.90,530.44 C531.57,529.87 533.23,529.30 534.90,528.73 C536.57,528.16 538.23,527.58 539.90,526.97 C541.57,526.37 543.23,525.73 544.90,525.07 C546.57,524.40 548.23,523.72 549.90,523.01 C551.57,522.30 553.23,521.57 554.90,520.84 C556.57,520.10 558.23,519.35 559.90,518.59 C561.57,517.83 563.23,517.07 564.90,516.31 C566.57,515.55 568.23,514.79 569.90,514.04 C571.57,513.29 573.23,512.55 574.90,511.82 C576.57,511.10 578.23,510.38 579.90,509.69 C581.57,509.00 583.23,508.33 584.90,507.69 C586.57,507.05 588.23,506.44 589.90,505.87 C590.87,505.53 591.83,505.21 592.80,504.90" fill="none" stroke="#e9715d" stroke-width="3.25" stroke-linecap="round" filter="url(#ds)"/>
<path d="M660.10,623.57 C661.77,622.03 663.43,620.49 665.10,618.95 C666.77,617.40 668.43,615.86 670.10,614.31 C671.77,612.76 673.43,611.21 675.10,609.66 C676.77,608.12 678.43,606.57 680.10,605.03 C681.77,603.49 683.43,601.96 685.10,600.43 C686.77,598.90 688.43,597.38 690.10,595.86 C691.77,594.35 693.43,592.85 695.10,591.36 C696.77,589.86 698.43,588.38 700.10,586.92 C701.77,585.45 703.43,584.01 705.10,582.59 C706.77,581.16 708.43,579.77 710.10,578.40 C711.77,577.04 713.43,575.71 715.10,574.42 C716.77,573.13 718.43,571.88 720.10,570.67 C721.77,569.47 723.43,568.32 725.10,567.22 C726.77,566.13 728.43,565.09 730.10,564.10 C731.77,563.11 733.43,562.17 735.10,561.27 C736.77,560.37 738.43,559.51 740.10,558.67 C741.77,557.83 743.43,557.02 745.10,556.23 C746.77,555.44 748.43,554.66 750.10,553.89 C751.77,553.11 753.43,552.34 755.10,551.57 C756.77,550.79 758.43,550.01 760.10,549.23 C761.77,548.44 763.43,547.65 765.10,546.86 C766.77,546.07 768.43,545.28 770.10,544.49 C771.77,543.70 773.43,542.92 775.10,542.13 C776.77,541.35 778.43,540.57 780.10,539.80 C781.77,539.04 783.43,538.27 785.10,537.52 C786.77,536.77 788.43,536.03 790.10,535.30 C791.77,534.58 793.43,533.86 795.10,533.16 C796.77,532.46 798.43,531.78 800.10,531.10 C801.77,530.43 803.43,529.77 805.10,529.12 C806.77,528.47 808.43,527.83 810.10,527.21 C811.77,526.59 813.43,525.98 815.10,525.38 C816.77,524.78 818.43,524.20 820.10,523.63 C821.77,523.05 823.43,522.49 825.10,521.95 C826.77,521.40 828.43,520.86 830.10,520.34 C831.77,519.82 833.43,519.31 835.10,518.81 C836.77,518.31 838.43,517.82 840.10,517.35 C841.77,516.87 843.43,516.41 845.10,515.96 C846.77,515.51 848.43,515.07 850.10,514.64 C851.77,514.21 853.43,513.79 855.10,513.39 C856.77,512.98 858.43,512.59 860.10,512.21 C861.77,511.83 863.43,511.46 865.10,511.10 C866.77,510.74 868.43,510.39 870.10,510.05 C871.77,509.72 873.43,509.39 875.10,509.07 C876.77,508.76 878.43,508.45 880.10,508.16 C881.77,507.87 883.43,507.59 885.10,507.31 C886.77,507.04 888.43,506.78 890.10,506.53 C891.77,506.28 893.43,506.04 895.10,505.81 C896.77,505.58 898.43,505.36 900.10,505.15 C901.10,505.03 902.10,504.90 903.10,504.78" fill="none" stroke="#e9715d" stroke-width="3.25" stroke-linecap="round" filter="url(#ds)"/>
<path d="M970.10,623.61 C971.77,623.02 973.43,622.44 975.10,621.88 C976.77,621.32 978.43,620.78 980.10,620.25 C981.77,619.72 983.43,619.20 985.10,618.70 C986.77,618.19 988.43,617.69 990.10,617.20 C991.77,616.71 993.43,616.23 995.10,615.75 C996.77,615.27 998.43,614.80 1000.10,614.32 C1001.77,613.85 1003.43,613.38 1005.10,612.90 C1006.77,612.43 1008.43,611.95 1010.10,611.47 C1011.77,610.99 1013.43,610.51 1015.10,610.02 C1016.77,609.53 1018.43,609.03 1020.10,608.52 C1021.77,608.01 1023.43,607.49 1025.10,606.96 C1026.77,606.42 1028.43,605.88 1030.10,605.31 C1031.77,604.75 1033.43,604.17 1035.10,603.57 C1036.77,602.98 1038.43,602.36 1040.10,601.72 C1041.77,601.08 1043.43,600.42 1045.10,599.74 C1046.77,599.06 1048.43,598.37 1050.10,597.66 C1051.77,596.95 1053.43,596.23 1055.10,595.50 C1056.77,594.77 1058.43,594.03 1060.10,593.29 C1061.77,592.55 1063.43,591.81 1065.10,591.07 C1066.77,590.32 1068.43,589.56 1070.10,588.78 C1071.77,588.00 1073.43,587.19 1075.10,586.33 C1076.77,585.47 1078.43,584.56 1080.10,583.59 C1081.77,582.62 1083.43,581.58 1085.10,580.45 C1086.77,579.32 1088.43,578.11 1090.10,576.79 C1091.77,575.47 1093.43,574.04 1095.10,572.49 C1096.77,570.94 1098.43,569.26 1100.10,567.44 C1101.77,565.62 1103.43,563.63 1105.10,561.54 C1106.77,559.45 1108.43,557.28 1110.10,555.15 C1111.77,553.03 1113.43,550.95 1115.10,549.06 C1116.77,547.16 1118.43,545.47 1120.10,543.95 C1121.77,542.44 1123.43,541.08 1125.10,539.81 C1126.77,538.54 1128.43,537.36 1130.10,536.25 C1131.77,535.15 1133.43,534.11 1135.10,533.14 C1136.77,532.17 1138.43,531.25 1140.10,530.39 C1141.77,529.52 1143.43,528.70 1145.10,527.92 C1146.77,527.13 1148.43,526.38 1150.10,525.64 C1151.77,524.91 1153.43,524.19 1155.10,523.50 C1156.77,522.80 1158.43,522.13 1160.10,521.47 C1161.77,520.81 1163.43,520.17 1165.10,519.55 C1166.77,518.92 1168.43,518.32 1170.10,517.72 C1171.77,517.13 1173.43,516.55 1175.10,515.99 C1176.77,515.43 1178.43,514.88 1180.10,514.34 C1181.77,513.80 1183.43,513.27 1185.10,512.76 C1186.77,512.25 1188.43,511.74 1190.10,511.25 C1191.77,510.75 1193.43,510.27 1195.10,509.80 C1196.77,509.32 1198.43,508.85 1200.10,508.39 C1201.77,507.93 1203.43,507.48 1205.10,507.03 C1206.77,506.58 1208.43,506.14 1210.10,505.71 C1211.10,505.44 1212.10,505.18 1213.10,504.92" fill="none" stroke="#e9715d" stroke-width="3.25" stroke-linecap="round" filter="url(#ds)"/>
<path d="M1280.10,623.60 C1281.77,622.56 1283.43,621.45 1285.10,620.29 C1286.77,619.13 1288.43,617.92 1290.10,616.67 C1291.77,615.41 1293.43,614.12 1295.10,612.80 C1296.77,611.48 1298.43,610.13 1300.10,608.76 C1301.77,607.40 1303.43,606.02 1305.10,604.64 C1306.77,603.26 1308.43,601.88 1310.10,600.50 C1311.77,599.13 1313.43,597.77 1315.10,596.43 C1316.77,595.09 1318.43,593.77 1320.10,592.49 C1321.77,591.20 1323.43,589.96 1325.10,588.76 C1326.77,587.56 1328.43,586.41 1330.10,585.32 C1331.77,584.23 1333.43,583.21 1335.10,582.22 C1336.77,581.22 1338.43,580.25 1340.10,579.21 C1341.77,578.17 1343.43,577.06 1345.10,575.82 C1346.77,574.57 1348.43,573.18 1350.10,571.69 C1351.77,570.20 1353.43,568.62 1355.10,566.97 C1356.77,565.32 1358.43,563.61 1360.10,561.89 C1361.77,560.16 1363.43,558.41 1365.10,556.69 C1366.77,554.97 1368.43,553.27 1370.10,551.67 C1371.77,550.08 1373.43,548.60 1375.10,547.31 C1376.77,546.02 1378.43,544.93 1380.10,544.00 C1381.77,543.07 1383.43,542.32 1385.10,541.71 C1386.77,541.10 1388.43,540.63 1390.10,540.32 C1391.77,540.01 1393.43,539.85 1395.10,539.84 C1396.77,539.84 1398.43,539.99 1400.10,540.26 C1401.77,540.52 1403.43,540.90 1405.10,541.33 C1406.77,541.77 1408.43,542.25 1410.10,542.74 C1411.77,543.23 1413.43,543.72 1415.10,544.16 C1416.77,544.59 1418.43,544.97 1420.10,545.27 C1421.77,545.58 1423.43,545.80 1425.10,545.93 C1426.77,546.07 1428.43,546.11 1430.10,546.04 C1431.77,545.97 1433.43,545.80 1435.10,545.50 C1436.77,545.20 1438.43,544.78 1440.10,544.22 C1441.77,543.66 1443.43,542.97 1445.10,542.11 C1446.77,541.26 1448.43,540.25 1450.10,539.11 C1451.77,537.97 1453.43,536.70 1455.10,535.36 C1456.77,534.02 1458.43,532.58 1460.10,531.15 C1461.77,529.72 1463.43,528.30 1465.10,526.97 C1466.77,525.65 1468.43,524.44 1470.10,523.33 C1471.77,522.23 1473.43,521.23 1475.10,520.31 C1476.77,519.40 1478.43,518.58 1480.10,517.83 C1481.77,517.08 1483.43,516.41 1485.10,515.79 C1486.77,515.17 1488.43,514.61 1490.10,514.09 C1491.77,513.57 1493.43,513.10 1495.10,512.65 C1496.77,512.20 1498.43,511.78 1500.10,511.37 C1501.77,510.96 1503.43,510.56 1505.10,510.16 C1506.77,509.76 1508.43,509.35 1510.10,508.93 C1511.77,508.50 1513.43,508.05 1515.10,507.57 C1516.77,507.09 1518.43,506.58 1520.10,506.01 C1521.17,505.65 1522.23,505.26 1523.30,504.86" fill="none" stroke="#e9715d" stroke-width="3.25" stroke-linecap="round" filter="url(#ds)"/>
<path d="M460.00,898.96 C461.67,897.07 463.33,895.17 465.00,893.25 C466.67,891.34 468.33,889.41 470.00,887.49 C471.67,885.56 473.33,883.64 475.00,881.72 C476.67,879.81 478.33,877.90 480.00,876.01 C481.67,874.12 483.33,872.25 485.00,870.40 C486.67,868.55 488.33,866.74 490.00,864.95 C491.67,863.17 493.33,861.42 495.00,859.74 C496.67,858.06 498.33,856.45 500.00,854.94 C501.67,853.43 503.33,852.04 505.00,850.77 C506.67,849.50 508.33,848.34 510.00,847.29 C511.67,846.23 513.33,845.27 515.00,844.40 C516.67,843.52 518.33,842.73 520.00,842.00 C521.67,841.27 523.33,840.61 525.00,839.99 C526.67,839.38 528.33,838.81 530.00,838.29 C531.67,837.77 533.33,837.29 535.00,836.85 C536.67,836.40 538.33,836.00 540.00,835.62 C541.67,835.25 543.33,834.91 545.00,834.59 C546.67,834.27 548.33,833.98 550.00,833.71 C551.67,833.43 553.33,833.18 555.00,832.94 C556.67,832.70 558.33,832.48 560.00,832.26 C561.67,832.04 563.33,831.84 565.00,831.63 C566.67,831.42 568.33,831.22 570.00,831.01 C571.67,830.80 573.33,830.59 575.00,830.37 C576.67,830.15 578.33,829.92 580.00,829.67 C581.67,829.42 583.33,829.16 585.00,828.88 C586.67,828.60 588.33,828.29 590.00,827.96 C591.00,827.77 592.00,827.56 593.00,827.34" fill="none" stroke="#e9715d" stroke-width="3.25" stroke-linecap="round" filter="url(#ds)"/>
<path d="M805.00,883.96 C806.67,883.16 808.33,882.40 810.00,881.67 C811.67,880.95 813.33,880.26 815.00,879.59 C816.67,878.93 818.33,878.29 820.00,877.67 C821.67,877.05 823.33,876.45 825.00,875.86 C826.67,875.27 828.33,874.69 830.00,874.11 C831.67,873.54 833.33,872.96 835.00,872.39 C836.67,871.81 838.33,871.23 840.00,870.63 C841.67,870.04 843.33,869.43 845.00,868.80 C846.67,868.18 848.33,867.53 850.00,866.86 C851.67,866.18 853.33,865.48 855.00,864.75 C856.67,864.01 858.33,863.24 860.00,862.42 C861.67,861.61 863.33,860.75 865.00,859.85 C866.67,858.94 868.33,857.98 870.00,856.97 C871.67,855.95 873.33,854.88 875.00,853.74 C876.67,852.60 878.33,851.39 880.00,850.12 C881.67,848.85 883.33,847.51 885.00,846.10 C886.67,844.70 888.33,843.23 890.00,841.69 C891.67,840.15 893.33,838.55 895.00,836.88 C896.67,835.21 898.33,833.48 900.00,831.68 C901.37,830.21 902.73,828.69 904.10,827.13" fill="none" stroke="#e9715d" stroke-width="3.25" stroke-linecap="round" filter="url(#ds)"/>
<path d="M995.00,892.08 C996.67,890.60 998.33,889.17 1000.00,887.80 C1001.67,886.43 1003.33,885.10 1005.00,883.83 C1006.67,882.55 1008.33,881.32 1010.00,880.14 C1011.67,878.96 1013.33,877.82 1015.00,876.73 C1016.67,875.63 1018.33,874.58 1020.00,873.57 C1021.67,872.56 1023.33,871.59 1025.00,870.66 C1026.67,869.73 1028.33,868.83 1030.00,867.97 C1031.67,867.12 1033.33,866.29 1035.00,865.50 C1036.67,864.71 1038.33,863.96 1040.00,863.23 C1041.67,862.51 1043.33,861.81 1045.00,861.14 C1046.67,860.47 1048.33,859.84 1050.00,859.22 C1051.67,858.61 1053.33,858.02 1055.00,857.46 C1056.67,856.89 1058.33,856.35 1060.00,855.83 C1061.67,855.31 1063.33,854.81 1065.00,854.32 C1066.67,853.84 1068.33,853.38 1070.00,852.93 C1071.67,852.48 1073.33,852.05 1075.00,851.63 C1076.67,851.21 1078.33,850.80 1080.00,850.41 C1081.67,850.01 1083.33,849.63 1085.00,849.25 C1086.67,848.88 1088.33,848.51 1090.00,848.15 C1091.67,847.79 1093.33,847.43 1095.00,847.08 C1096.67,846.72 1098.33,846.37 1100.00,846.03 C1101.67,845.68 1103.33,845.34 1105.00,845.01 C1106.67,844.67 1108.33,844.33 1110.00,844.00 C1111.67,843.67 1113.33,843.35 1115.00,843.02 C1116.67,842.70 1118.33,842.38 1120.00,842.07 C1121.67,841.75 1123.33,841.44 1125.00,841.13 C1126.67,840.82 1128.33,840.51 1130.00,840.21 C1131.67,839.90 1133.33,839.60 1135.00,839.31 C1136.67,839.01 1138.33,838.72 1140.00,838.43 C1141.67,838.13 1143.33,837.85 1145.00,837.56 C1146.67,837.28 1148.33,836.99 1150.00,836.71 C1151.67,836.43 1153.33,836.16 1155.00,835.88 C1156.67,835.61 1158.33,835.34 1160.00,835.07 C1161.67,834.80 1163.33,834.53 1165.00,834.27 C1166.67,834.00 1168.33,833.74 1170.00,833.48 C1171.67,833.22 1173.33,832.96 1175.00,832.71 C1176.67,832.45 1178.33,832.20 1180.00,831.95 C1181.67,831.70 1183.33,831.45 1185.00,831.20 C1186.67,830.95 1188.33,830.71 1190.00,830.47 C1191.67,830.22 1193.33,829.98 1195.00,829.74 C1196.67,829.50 1198.33,829.26 1200.00,829.03 C1201.67,828.79 1203.33,828.56 1205.00,828.32 C1206.67,828.09 1208.33,827.86 1210.00,827.63 C1211.25,827.45 1212.50,827.28 1213.75,827.11" fill="none" stroke="#e9715d" stroke-width="3.25" stroke-linecap="round" filter="url(#ds)"/>
<path d="M1365.00,902.07 C1366.67,899.81 1368.33,897.59 1370.00,895.41 C1371.67,893.24 1373.33,891.11 1375.00,889.03 C1376.67,886.96 1378.33,884.93 1380.00,882.96 C1381.67,880.98 1383.33,879.06 1385.00,877.20 C1386.67,875.33 1388.33,873.52 1390.00,871.77 C1391.67,870.02 1393.33,868.33 1395.00,866.70 C1396.67,865.07 1398.33,863.50 1400.00,862.00 C1401.67,860.49 1403.33,859.05 1405.00,857.68 C1406.67,856.31 1408.33,855.01 1410.00,853.77 C1411.67,852.54 1413.33,851.37 1415.00,850.27 C1416.67,849.17 1418.33,848.13 1420.00,847.14 C1421.67,846.16 1423.33,845.23 1425.00,844.36 C1426.67,843.49 1428.33,842.67 1430.00,841.89 C1431.67,841.12 1433.33,840.39 1435.00,839.71 C1436.67,839.02 1438.33,838.38 1440.00,837.77 C1441.67,837.17 1443.33,836.60 1445.00,836.06 C1446.67,835.52 1448.33,835.02 1450.00,834.54 C1451.67,834.06 1453.33,833.61 1455.00,833.19 C1456.67,832.76 1458.33,832.36 1460.00,831.97 C1461.67,831.58 1463.33,831.22 1465.00,830.86 C1466.67,830.51 1468.33,830.17 1470.00,829.84 C1471.67,829.50 1473.33,829.18 1475.00,828.86 C1476.67,828.54 1478.33,828.23 1480.00,827.91 C1481.67,827.60 1483.33,827.28 1485.00,826.96 C1486.67,826.64 1488.33,826.31 1490.00,825.98 C1491.67,825.64 1493.33,825.30 1495.00,824.95 C1496.67,824.61 1498.33,824.25 1500.00,823.90 C1501.67,823.54 1503.33,823.18 1505.00,822.82 C1506.67,822.46 1508.33,822.10 1510.00,821.74 C1511.67,821.38 1513.33,821.01 1515.00,820.66 C1516.67,820.30 1518.33,819.94 1520.00,819.59 C1521.10,819.36 1522.20,819.13 1523.30,818.91" fill="none" stroke="#e9715d" stroke-width="3.25" stroke-linecap="round" filter="url(#ds)"/>
</svg>
<div class="abs" style="left:1524.3px;top:789.1px;width:53.2px;height:53.2px;border-radius:50%;background:#e97a66;box-shadow:0 4px 22px rgba(20,30,50,0.12)"></div>
<svg class="abs" style="left:1536px;top:800px" width="30" height="32" viewBox="1536 800 30 32">
<path d="M1541.6,803 L1560.5,803 Q1563.1,803 1563.1,805.6 L1563.1,829.4 L1555.3,826.8 L1541.6,826.8 Q1538.9,826.8 1538.9,824.2 L1538.9,805.6 Q1538.9,803 1541.6,803 Z" fill="#fff"/>
<path d="M1542.8,819.9 Q1551,825.0 1559.2,819.9" fill="none" stroke="#e97a66" stroke-width="1.35" stroke-linecap="round"/>
</svg>
</body></html>
